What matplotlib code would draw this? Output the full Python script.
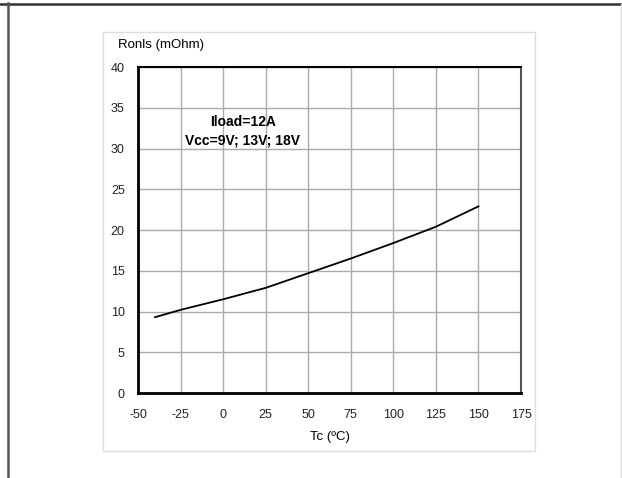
import matplotlib
matplotlib.use("Agg")
import matplotlib.pyplot as plt
from matplotlib.patches import Rectangle
from matplotlib.lines import Line2D

# Data
tc = [-40, -25, 0, 25, 50, 75, 100, 125, 150]
ronls = [9.3, 10.2, 11.5, 12.9, 14.7, 16.5, 18.4, 20.4, 22.9]
x_ticks = [-50, -25, 0, 25, 50, 75, 100, 125, 150, 175]
y_ticks = [0, 5, 10, 15, 20, 25, 30, 35, 40]

plt.rcParams['font.family'] = ['Liberation Sans', 'DejaVu Sans']
plt.rcParams['axes.unicode_minus'] = False

W, H = 622, 478
fig = plt.figure(figsize=(W / 100, H / 100), dpi=100)

# page frame lines and inner box
fig.add_artist(Line2D([0, 1], [1 - 3.5 / H, 1 - 3.5 / H], color='#333333', lw=1.8))
fig.add_artist(Line2D([8 / W, 8 / W], [0, 1 - 3 / H], color='#555555', lw=1.8))
fig.add_artist(Line2D([621 / W, 621 / W], [0, 1 - 4 / H], color='#dddddd', lw=1))
fig.add_artist(Rectangle((103 / W, 1 - 451 / H), (535 - 103) / W, (451 - 32) / H,
                         fill=False, edgecolor='#dddddd', lw=1))

ax = fig.add_axes([138 / W, 1 - 393 / H, (521 - 138) / W, (393 - 67) / H])
ax.plot(tc, ronls, color='black', lw=1.3)

ax.set_xlim(-50, 175)
ax.set_ylim(0, 40)
ax.set_xticks(x_ticks)
ax.set_yticks(y_ticks)
ax.tick_params(length=0, labelsize=9, colors='#222222')
ax.tick_params(axis='x', pad=11.5)
ax.tick_params(axis='y', pad=9.5)
ax.grid(True, color='#aaaaaa', lw=1)
ax.set_axisbelow(True)
for side in ['left', 'bottom']:
    ax.spines[side].set_linewidth(2)
ax.spines['top'].set_linewidth(1.5)
ax.spines['right'].set_linewidth(1.5)
ax.spines['right'].set_color('#555555')

ax.set_xlabel('Tc (ºC)', fontsize=9.5, labelpad=7)

fig.text(118 / W, 1 - 45 / H, 'Ronls (mOhm)', fontsize=9.5, va='center', ha='left')
ax.text(0.274, 0.804, 'Iload=12A\nVcc=9V; 13V; 18V', transform=ax.transAxes,
        fontsize=10, fontweight='bold', ha='center', va='center', linespacing=1.4)

fig.savefig('out.png', dpi=100)
